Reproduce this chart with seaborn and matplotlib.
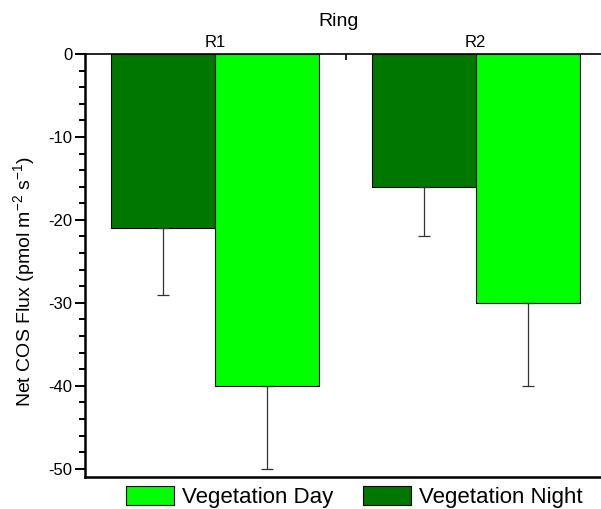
import numpy as np
import pandas as pd
import matplotlib
matplotlib.use("Agg")
import matplotlib.pyplot as plt
from matplotlib.ticker import MultipleLocator
import seaborn as sns

rings = ["R1", "R2"]
night_flux = [-21, -16]
night_err = [8, 6]
day_flux = [-40, -30]
day_err = [10, 10]
periods = ["Vegetation Night", "Vegetation Day"]

sns.set_theme(style="white", rc={"text.color": "black", "axes.labelcolor": "black",
                                 "xtick.color": "black", "ytick.color": "black"})
plt.rcParams["font.family"] = ["Liberation Sans", "DejaVu Sans"]
plt.rcParams["axes.unicode_minus"] = False
plt.rcParams["mathtext.fontset"] = "custom"
plt.rcParams["mathtext.rm"] = "Liberation Sans"
plt.rcParams["mathtext.default"] = "regular"

df = pd.DataFrame({
    "Ring": rings * 2,
    "Period": [periods[0]] * 2 + [periods[1]] * 2,
    "Flux": night_flux + day_flux,
    "Err": night_err + day_err,
})

palette = {"Vegetation Night": "#007800", "Vegetation Day": "#00ff00"}

fig = plt.figure(figsize=(6.01, 5.09), dpi=100)
ax = fig.add_axes([85 / 601, 1 - 477 / 509, (606 - 85) / 601, (477 - 54) / 509])

sns.barplot(data=df, x="Ring", y="Flux", hue="Period", order=rings,
            hue_order=periods, palette=palette, width=0.8, errorbar=None,
            edgecolor="black", linewidth=0.8, saturation=1, ax=ax, legend=False)

# downward error bars at each bar centre
for container, period in zip(ax.containers, periods):
    sub = df[df["Period"] == period].set_index("Ring").loc[rings]
    xs = [p.get_x() + p.get_width() / 2 for p in container.patches]
    ax.errorbar(xs, sub["Flux"].values,
                yerr=[sub["Err"].values, np.zeros(len(xs))],
                fmt="none", ecolor="#333333", elinewidth=0.9, capsize=4,
                capthick=0.9, zorder=1)

ax.set_xlim(-0.5, 1.5)
ax.set_ylim(-51, 0)

ax.xaxis.tick_top()
ax.xaxis.set_label_position("top")
ax.set_xlabel("Ring", fontsize=14)
ax.xaxis.set_label_coords(0.4875, 1.0655)
ax.set_ylabel("Net COS Flux (pmol m$^{-2}$ s$^{-1}$)", fontsize=14)
ax.yaxis.set_label_coords(-0.092, 0.463)

ax.yaxis.set_major_locator(MultipleLocator(10))
ax.yaxis.set_minor_locator(MultipleLocator(2))
ax.tick_params(axis="y", which="major", direction="out", length=7, width=1.4,
               labelsize=12, left=True, pad=2)
ax.tick_params(axis="y", which="minor", direction="out", length=4, width=1.4,
               left=True)
ax.set_xticks([0, 1])
ax.set_xticks([0.5], minor=True)
ax.tick_params(axis="x", which="major", top=True, bottom=False, length=0,
               labelsize=12, pad=3)
ax.tick_params(axis="x", which="minor", top=True, bottom=False,
               direction="in", length=4, width=1.2)

for side in ["left", "bottom"]:
    ax.spines[side].set_linewidth(1.8)
    ax.spines[side].set_color("black")
ax.spines["top"].set_linewidth(1.2)
ax.spines["top"].set_color("black")
ax.spines["right"].set_visible(False)

handles = [plt.Rectangle((0, 0), 1, 1, facecolor=palette[p], edgecolor="black",
                         linewidth=0.8) for p in [periods[1], periods[0]]]
fig.legend(handles, [periods[1], periods[0]], loc="center",
           bbox_to_anchor=(354 / 601, 1 - 497 / 509), ncol=2, frameon=False,
           fontsize=16, handlelength=2.15, handleheight=0.9,
           columnspacing=1.35, handletextpad=0.36, borderaxespad=0,
           borderpad=0)

fig.savefig("out.png", dpi=100)
